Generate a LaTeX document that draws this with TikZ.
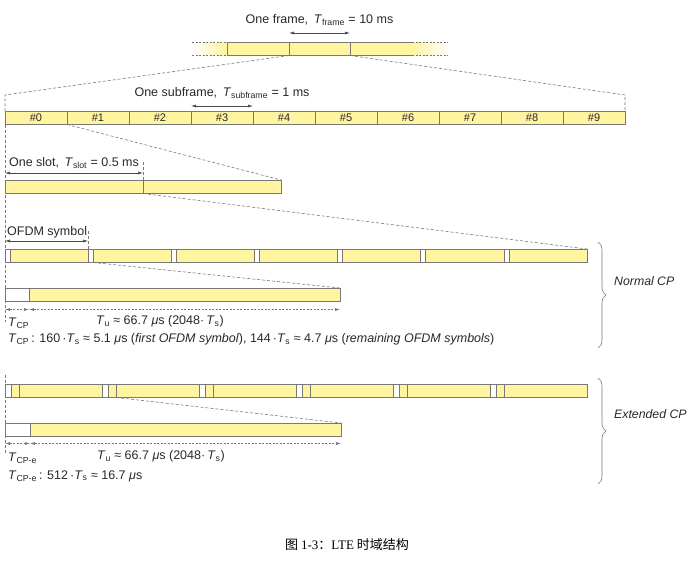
\documentclass[tikz,border=0pt]{standalone}
\usepackage{fontspec}
\setmainfont{Liberation Sans}
\newfontfamily\cjk{Noto Sans CJK SC}
\newfontfamily\capserif{Liberation Serif}
\usetikzlibrary{arrows.meta, positioning, decorations.pathreplacing}

\definecolor{lteyellow}{RGB}{255,244,160}
\definecolor{boxgray}{RGB}{120,120,120}
\definecolor{dashgray}{RGB}{120,120,120}
\definecolor{txtgray}{RGB}{40,40,40}

\newcommand{\Tsym}[1]{\textit{T}\textsubscript{#1}}

\begin{document}
\begin{tikzpicture}[
  x=1pt, y=-1pt,
  every node/.style={text=txtgray},
  cell/.style={rectangle, draw=boxgray, fill=lteyellow, line width=0.6pt, anchor=north west,
               minimum height=13.5pt, inner sep=0pt, outer sep=0pt, font=\fontsize{11}{12}\selectfont},
  cpcell/.style={cell, fill=white},
  fade/.style={rectangle, anchor=north west, minimum height=13.5pt, inner sep=0pt, outer sep=0pt},
  fadeline/.style={draw=dashgray, dash pattern=on 2pt off 1.5pt, line width=0.6pt},
  zoomline/.style={draw=dashgray, dash pattern=on 3pt off 2pt, line width=0.6pt},
  guide/.style={draw=dashgray, dash pattern=on 3pt off 2pt, line width=0.5pt},
  dimarrow/.style={{Latex[length=5pt,width=3pt]}-{Latex[length=5pt,width=3pt]}, draw=txtgray!85, line width=0.6pt},
  dimdash/.style={dimarrow, draw=dashgray, dash pattern=on 2pt off 1.5pt},
  lbl/.style={font=\fontsize{12.5}{14}\selectfont, inner sep=1pt},
  cplbl/.style={lbl, font=\fontsize{12.3}{14}\selectfont\itshape, anchor=west},
  brace/.style={decorate, decoration={brace, amplitude=8pt}, draw=boxgray, line width=0.6pt}
]
\useasboundingbox (0,0) rectangle (694,562);

% radio frame
\node[fade, left color=white, right color=lteyellow, minimum width=35pt] (fadel) at (192,42) {};
\node[cell, minimum width=62pt] (fr1) at (227,42) {};
\node[cell, minimum width=61pt] (fr2) at (289,42) {};
\node[cell, minimum width=62pt] (fr3) at (350,42) {};
\node[fade, left color=lteyellow, right color=white, minimum width=36pt] (fader) at (412,42) {};
\draw[fadeline] (fadel.north west) -- (fadel.north east) (fadel.south west) -- (fadel.south east);
\draw[fadeline] (fader.north west) -- (fader.north east) (fader.south west) -- (fader.south east);
\draw[dimarrow] ([yshift=9pt]fr2.north west) -- ([yshift=9pt]fr2.north east);
\node[lbl] (frlbl) at ([yshift=22pt]fr2.north) {One frame,\, \Tsym{frame} = 10 ms};

% subframes
\foreach \i in {0,...,9}
  \node[cell, minimum width=62pt] (sf\i) at (5+62*\i,111) {\#\i};
\draw[dimarrow] ([yshift=5pt]sf3.north west) -- ([yshift=5pt]sf3.north east);
\node[lbl] (sflbl) at ([yshift=18pt]sf3.north) {One subframe,\, \Tsym{subframe} = 1 ms};
\draw[zoomline] (fr2.south west) -- ([yshift=16pt]sf0.north west) -- (sf0.north west);
\draw[zoomline] (fr2.south east) -- ([yshift=16pt]sf9.north east) -- (sf9.north east);

% slots
\node[cell, minimum width=138pt] (sl0) at (5,180) {};
\node[cell, minimum width=138pt] (sl1) at (143,180) {};
\draw[zoomline] (sf1.south west) -- (sl1.north east);
\draw[guide] (sl1.north west) -- ([yshift=18pt]sl1.north west);
\draw[dimarrow] ([yshift=7pt]sl0.north west) -- ([yshift=7pt]sl0.north east);
\node[lbl] (sllbl) at ([yshift=17pt]sl0.north) {One slot,\, \Tsym{slot} = 0.5 ms};

% normal CP symbols
\foreach \k in {0,...,6} {
  \node[cpcell, minimum width=5pt] (c\k) at (5+83.14*\k,249) {};
  \node[cell, minimum width=78.14pt] (d\k) at (c\k.north east) {};
}
\draw[zoomline] (sl1.south west) -- (d6.north east);
\draw[guide] (c1.north west) -- ([yshift=18pt]c1.north west);
\draw[dimarrow] ([yshift=8pt]c0.north west) -- ([yshift=8pt]c1.north west);
\node[lbl, anchor=south west] (symlbl) at ([xshift=1pt,yshift=10pt]c0.north west) {OFDM symbol};

\node[cpcell, minimum width=24pt] (ncp) at (5,288) {};
\node[cell, minimum width=311pt] (nu) at (ncp.north east) {};
\draw[zoomline] (c1.south east) -- (nu.north east);
\draw[dimdash] ([yshift=-8pt]ncp.south west) -- ([yshift=-8pt]ncp.south east);
\draw[dimdash] ([yshift=-8pt]nu.south west) -- ([yshift=-8pt]nu.south east);
\draw[guide] (sf0.south west) -- ([yshift=-20pt]ncp.south west);
\node[lbl, anchor=west] (ncplbl) at (7,323) {\Tsym{CP}};
\node[lbl, anchor=west] (nulbl) at (95,321) {\Tsym{u} ≈ 66.7 \textit{μ}s (2048·\,\Tsym{s})};
\node[lbl, anchor=west] (ndef) at (7,339) {\Tsym{CP}\,: 160\,·\Tsym{s} ≈ 5.1 \textit{μ}s (\textit{first OFDM symbol}), 144\,·\Tsym{s} ≈ 4.7 \textit{μ}s (\textit{remaining OFDM symbols})};

\coordinate (nbt) at (598,242);
\coordinate (nbb) at (598,348);
\draw[brace] (nbt) -- (nbb);
\node[cplbl] (nlbl) at (613,281) {Normal CP};

% extended CP symbols
\foreach \k in {0,...,5} {
  \node[cpcell, minimum width=6pt] (e\k) at (5+97*\k,384) {};
  \node[cell, minimum width=8pt] (es\k) at (e\k.north east) {};
  \node[cell, minimum width=83pt] (ed\k) at (es\k.north east) {};
}
\node[cpcell, minimum width=25pt] (ecp) at (5,423) {};
\node[cell, minimum width=311pt] (eu) at (ecp.north east) {};
\draw[zoomline] (es1.south east) -- (eu.north east);
\draw[dimdash] ([yshift=-7pt]ecp.south west) -- ([yshift=-7pt]ecp.south east);
\draw[dimdash] ([yshift=-7pt]eu.south west) -- ([yshift=-7pt]eu.south east);
\draw[guide] ([yshift=9pt]e0.north west) -- ([yshift=-18pt]ecp.south west);
\node[lbl, anchor=west] (ecplbl) at (7,458) {\Tsym{CP-e}};
\node[lbl, anchor=west] (eulbl) at (96,456) {\Tsym{u} ≈ 66.7 \textit{μ}s (2048·\,\Tsym{s})};
\node[lbl, anchor=west] (edef) at (7,476) {\Tsym{CP-e}\,: 512\,·\Tsym{s} ≈ 16.7 \textit{μ}s};

\coordinate (ebt) at (598,378);
\coordinate (ebb) at (598,484);
\draw[brace] (ebt) -- (ebb);
\node[cplbl] (elbl) at (613,414) {Extended CP};

% caption
\node[font=\fontsize{13}{15}\selectfont, text=black] (cap) at (347,545) {\cjk 图 {\capserif 1-3}：{\capserif LTE} 时域结构};
\end{tikzpicture}
\end{document}
